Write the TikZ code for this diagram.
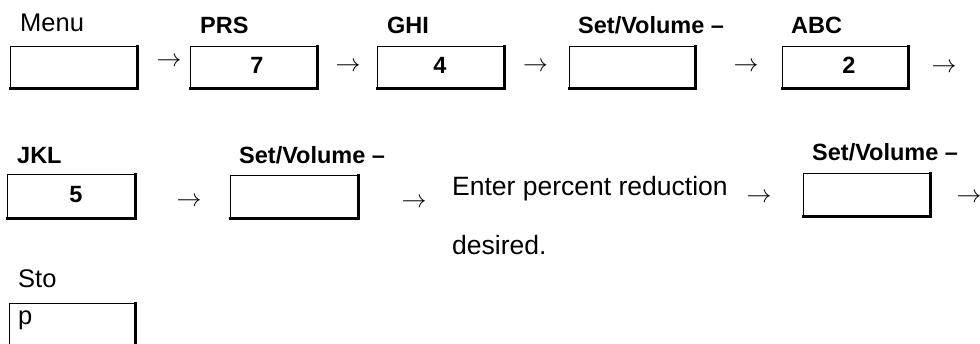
\documentclass[tikz,border=0pt]{standalone}
\usepackage{fontspec}
\setmainfont{Liberation Sans}
\begin{document}
\begin{tikzpicture}[x=1pt,y=-1pt,
  lbl/.style={inner sep=0pt, anchor=base west, font=\fontsize{25.5}{30}\selectfont},
  biglbl/.style={inner sep=0pt, anchor=base west, font=\fontsize{26.5}{30}\selectfont},
  blbl/.style={inner sep=0pt, anchor=base west, font=\bfseries\fontsize{23.5}{28}\selectfont},
  digit/.style={inner sep=0pt, anchor=base, font=\bfseries\fontsize{23.5}{28}\selectfont},
  keybox/.style={draw, line width=0.9pt, inner sep=0pt, anchor=north west, minimum width=127pt, minimum height=42pt},
  shadowedge/.style={line width=3pt, line cap=rect},
  arr/.style={inner sep=0pt, anchor=center, font=\fontsize{25}{28}\selectfont}]
\useasboundingbox (0,0) rectangle (980,343);
\clip (0,0) rectangle (980,343);
% row 1
\node[lbl] (lmenu) at (20,31) {Menu};
\node[keybox] (b1) at (10,46) {};
\node[arr] (a1) at (169,62) {$\rightarrow$};
\node[blbl] (lprs) at (200,33) {PRS};
\node[keybox] (b2) at (190,46) {};
\node[digit] (d7) at (257,73) {7};
\node[arr] (a2) at (348,67) {$\rightarrow$};
\node[blbl] (lghi) at (387,33) {GHI};
\node[keybox] (b3) at (377,46) {};
\node[digit] (d4) at (440,73) {4};
\node[arr] (a3) at (535.5,67) {$\rightarrow$};
\node[blbl] (lsv1) at (578,33) {Set/Volume –};
\node[keybox, minimum width=126pt] (b4) at (569,46) {};
\node[arr] (a4) at (746,67) {$\rightarrow$};
\node[blbl] (labc) at (791,33) {ABC};
\node[keybox, minimum width=126pt] (b5) at (782,46) {};
\node[digit] (d2) at (849,73) {2};
\node[arr] (a5) at (944,68) {$\rightarrow$};
% row 2
\node[blbl] (ljkl) at (17,163) {JKL};
\node[keybox, minimum width=128pt, minimum height=44pt] (b6) at (7,174) {};
\node[digit] (d5) at (76,202) {5};
\node[arr] (a6) at (189,202) {$\rightarrow$};
\node[blbl] (lsv2) at (239,163) {Set/Volume –};
\node[keybox, minimum width=128pt, minimum height=43pt] (b7) at (230,175) {};
\node[arr] (a7) at (414,203) {$\rightarrow$};
\node[biglbl] (lenter) at (452,195) {Enter percent reduction};
\node[biglbl] (ldesired) at (452,254) {desired.};
\node[arr] (a8) at (759,198) {$\rightarrow$};
\node[blbl] (lsv3) at (812,160) {Set/Volume –};
\node[keybox, minimum height=43pt] (b8) at (803,173) {};
\node[arr] (a9) at (969,198) {$\rightarrow$};
% row 3
\node[lbl] (lsto) at (18,287) {Sto};
\node[keybox, minimum width=126pt, minimum height=48pt] (b9) at (9,303) {};
\node[lbl] (lp) at (18,324) {p};
% shadow edges
\foreach \n in {b1,b2,b3,b4,b5,b6,b7,b8,b9}
  \draw[shadowedge] (\n.north east) -- (\n.south east) -- (\n.south west);
\end{tikzpicture}
\end{document}
